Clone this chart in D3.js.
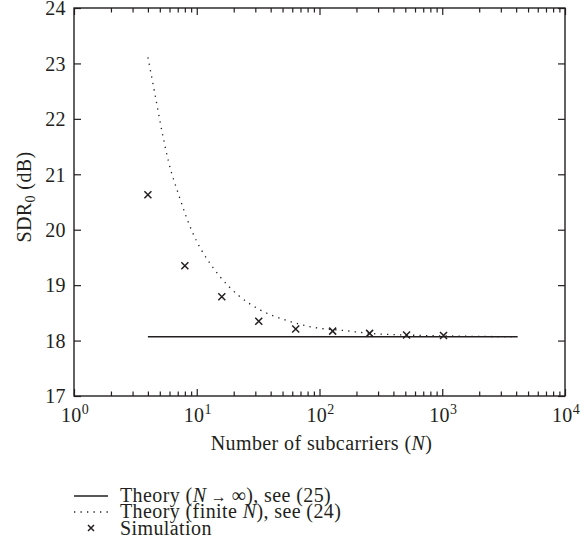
<!DOCTYPE html>
<html>
<head>
<meta charset="utf-8">
<script src="https://cdn.jsdelivr.net/npm/d3@7"></script>
<style>
  body { margin: 0; background: #fff; }
  svg text { font-family: "Liberation Serif", "DejaVu Serif", serif; fill: #231f20; letter-spacing: 0.4px; }
</style>
</head>
<body>
<svg id="chart"></svg>
<script>
const width = 588;
const height = 560;
const ink = '#231f20';

// simulation points
const simN = [4, 8, 16, 32, 64, 128, 256, 512, 1024];
const simSDR = [20.63, 19.35, 18.79, 18.35, 18.21, 18.17, 18.13, 18.10, 18.09];

// theory, N -> infinity
const limitN = [4, 4096];
const limitSDR = [18.07, 18.07];

// theory, finite N
const finiteN = [4, 4.5, 5.3, 5.9, 7.1, 9.2, 10.8, 12.4, 15.5, 22, 33, 53, 86, 160, 256, 512, 1024, 2048, 4096];
const finiteSDR = [23.11, 22.52, 21.69, 21.22, 20.64, 19.96, 19.65, 19.44, 19.15, 18.81, 18.55, 18.37, 18.245, 18.18, 18.13, 18.10, 18.085, 18.075, 18.07];

const xMajor = [1, 10, 100, 1000, 10000];
const xExp = ['0', '1', '2', '3', '4'];
const yTicks = [17, 18, 19, 20, 21, 22, 23, 24];

const svg = d3.select('#chart')
    .attr('width', width)
    .attr('height', height);

const x = d3.scaleLog().domain([1, 10000]).range([74, 565]);
const y = d3.scaleLinear().domain([17, 24]).range([396, 8]);

const xMinor = [];
for (let k = 0; k < 4; k++) {
    for (let m = 2; m <= 9; m++) xMinor.push(m * Math.pow(10, k));
}

function styleAxis(g) {
    g.select('.domain').remove();
    g.selectAll('line').attr('stroke', ink).attr('stroke-width', 1.2);
}

// bottom / top ticks, pointing inward
svg.append('g').attr('transform', `translate(0,${y(17)})`)
    .call(d3.axisBottom(x).tickValues(xMajor).tickSize(-7).tickFormat(''))
    .call(styleAxis);
svg.append('g').attr('transform', `translate(0,${y(17)})`)
    .call(d3.axisBottom(x).tickValues(xMinor).tickSize(-4.5).tickFormat(''))
    .call(styleAxis);
svg.append('g').attr('transform', `translate(0,${y(24)})`)
    .call(d3.axisTop(x).tickValues(xMajor).tickSize(-7).tickFormat(''))
    .call(styleAxis);
svg.append('g').attr('transform', `translate(0,${y(24)})`)
    .call(d3.axisTop(x).tickValues(xMinor).tickSize(-4.5).tickFormat(''))
    .call(styleAxis);

// left / right ticks
const yAxis = svg.append('g').attr('transform', `translate(${x(1)},0)`)
    .call(d3.axisLeft(y).tickValues(yTicks).tickSize(-7).tickPadding(8).tickFormat(d3.format('d')))
    .call(styleAxis);
yAxis.selectAll('text')
    .attr('font-size', 20)
    .attr('dy', '0.34em');
svg.append('g').attr('transform', `translate(${x(10000)},0)`)
    .call(d3.axisRight(y).tickValues(yTicks).tickSize(-7).tickFormat(''))
    .call(styleAxis);

// frame
svg.append('rect')
    .attr('x', x(1)).attr('y', y(24))
    .attr('width', x(10000) - x(1)).attr('height', y(17) - y(24))
    .attr('fill', 'none').attr('stroke', ink).attr('stroke-width', 1.4);

// x tick labels as powers of ten
const xLabels = svg.append('g').selectAll('text')
    .data(xMajor).enter().append('text')
    .attr('x', d => x(d) + 1)
    .attr('y', 422)
    .attr('text-anchor', 'middle')
    .attr('font-size', 20);
xLabels.append('tspan').text('10');
xLabels.append('tspan')
    .attr('dy', -8).attr('font-size', 14)
    .text((d, i) => xExp[i]);

// axis titles
const xTitle = svg.append('text')
    .attr('x', (x(1) + x(10000)) / 2 + 2)
    .attr('y', 450)
    .attr('text-anchor', 'middle')
    .attr('font-size', 20);
xTitle.append('tspan').text('Number of subcarriers (');
xTitle.append('tspan').attr('font-style', 'italic').text('N');
xTitle.append('tspan').text(')');

const yTitle = svg.append('text')
    .attr('transform', 'translate(31,197) rotate(-90)')
    .attr('text-anchor', 'middle')
    .attr('font-size', 20);
yTitle.append('tspan').text('SDR');
yTitle.append('tspan').attr('font-size', 14).attr('dy', 4).text('0');
yTitle.append('tspan').attr('dy', -4).text(' (dB)');

// series
const line = d3.line().x(d => x(d[0])).y(d => y(d[1]));

svg.append('path')
    .datum(limitN.map((n, i) => [n, limitSDR[i]]))
    .attr('fill', 'none')
    .attr('stroke', ink)
    .attr('stroke-width', 1.4)
    .attr('d', line);

svg.append('path')
    .datum(finiteN.map((n, i) => [n, finiteSDR[i]]))
    .attr('fill', 'none')
    .attr('stroke', ink)
    .attr('stroke-width', 1.3)
    .attr('stroke-dasharray', '1.3 5.2')
    .attr('d', line.curve(d3.curveMonotoneX));

function cross(g, s) {
    g.append('path')
        .attr('d', `M${-s},${-s}L${s},${s}M${-s},${s}L${s},${-s}`)
        .attr('stroke', ink)
        .attr('stroke-width', 1.5)
        .attr('fill', 'none');
}

svg.append('g').selectAll('g')
    .data(simN.map((n, i) => [n, simSDR[i]]))
    .enter().append('g')
    .attr('transform', d => `translate(${x(d[0])},${y(d[1])})`)
    .each(function() { cross(d3.select(this), 3.5); });

// legend
const legend = svg.append('g');
legend.append('line')
    .attr('x1', 74).attr('x2', 108).attr('y1', 496).attr('y2', 496)
    .attr('stroke', ink).attr('stroke-width', 1.4);
legend.append('line')
    .attr('x1', 74).attr('x2', 108).attr('y1', 512).attr('y2', 512)
    .attr('stroke', ink).attr('stroke-width', 1.3)
    .attr('stroke-dasharray', '1.3 5.2');
legend.append('g').attr('transform', 'translate(91,528)')
    .call(g => cross(g, 3));

const t1 = legend.append('text').attr('x', 120).attr('y', 502).attr('font-size', 20);
t1.append('tspan').text('Theory (');
t1.append('tspan').attr('font-style', 'italic').text('N');
t1.append('tspan').attr('font-size', 16).text(' → ');
t1.append('tspan').text('∞), see (25)');

const t2 = legend.append('text').attr('x', 120).attr('y', 518).attr('font-size', 20);
t2.append('tspan').text('Theory (finite ');
t2.append('tspan').attr('font-style', 'italic').text('N');
t2.append('tspan').text('), see (24)');

legend.append('text').attr('x', 120).attr('y', 535).attr('font-size', 20).text('Simulation');
</script>
</body>
</html>
